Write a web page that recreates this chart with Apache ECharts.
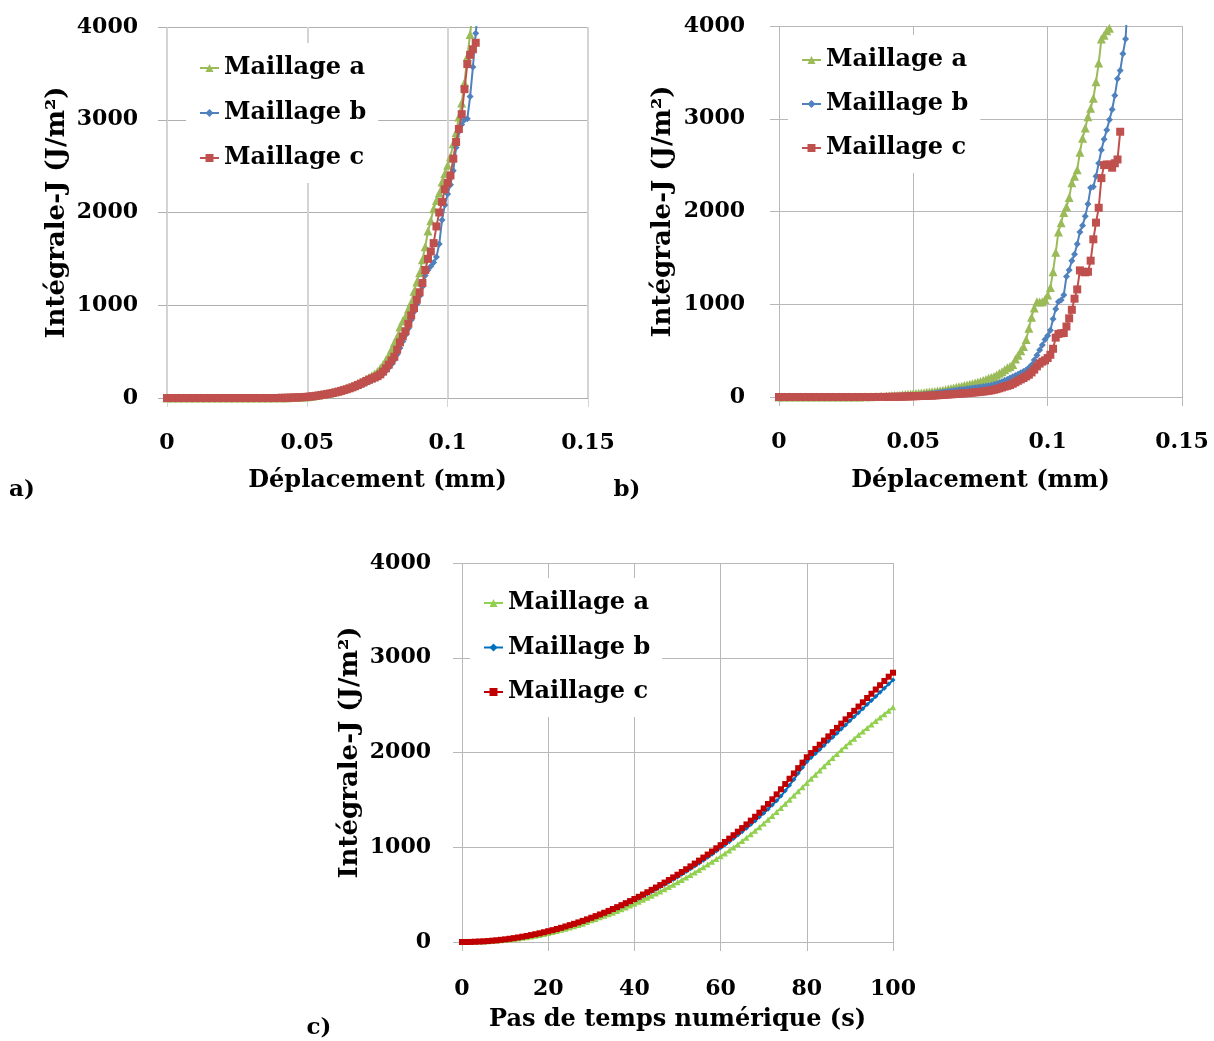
<!DOCTYPE html>
<html><head><meta charset="utf-8">
<script src="https://cdn.jsdelivr.net/npm/echarts@6/dist/echarts.min.js"></script>
<style>html,body{margin:0;padding:0;background:#fff}#c{width:1214px;height:1041px}</style>
</head><body><div id="c"></div>
<script>
// ---------- Chart a) : J-integral vs displacement ----------
const dispA = [0,0.002,0.004,0.006,0.008,0.01,0.012,0.014,0.016,0.018,0.02,0.022,0.024,0.026,0.028,0.03,0.032,0.034,0.036,0.038,
0.04,0.041,0.042,0.043,0.044,0.045,0.046,0.047,0.048,0.049,0.05,0.051,0.052,0.053,0.054,0.055,0.056,0.057,0.058,0.059,
0.06,0.061,0.062,0.063,0.064,0.065,0.066,0.067,0.068,0.069,0.07,0.071,0.072,0.073,0.074,0.075,0.076,0.077,0.078,0.079,
0.08,0.081,0.082,0.083,0.084,0.085,0.086,0.087,0.088,0.089,0.09,0.091,0.092,0.093,0.094,0.095,0.096,0.097,0.098,0.099,
0.1,0.101,0.102,0.103,0.104,0.105,0.106,0.107,0.108,0.109,0.11,0.111];
const aMeshA = [0,0,0,0,0,0,0,0,0,0,0,0,0,0,0,0,0,0,0,1,
2,2,3,4,5,6,7,8,10,12,14,18,22,27,32,37,42,48,54,60,
68,76,85,95,105,115,128,142,156,170,187,203,220,240,262,285,320,360,410,460,
525,595,657,765,830,880,960,1030,1150,1250,1350,1490,1630,1800,1910,2040,2130,2210,2330,2420,
2510,2600,2740,2860,3030,3180,3400,3680,3920,4200,null,null];
const aMeshB = [0,0,0,0,0,0,0,0,0,0,0,0,0,0,0,0,0,0,0,0,
1,1,2,2,3,4,5,6,8,10,12,14,17,20,24,28,32,37,42,48,
54,61,68,76,84,93,102,112,123,135,148,162,176,190,203,215,235,260,290,325,
365,410,470,540,610,680,750,840,930,1010,1100,1200,1320,1380,1420,1460,1520,1660,1920,2080,
2200,2300,2450,2700,2870,2950,3000,3010,3250,3570,3933,4250];
const aMeshC = [0,0,0,0,0,0,0,0,0,0,0,0,0,0,0,0,0,0,0,0,
1,2,2,3,4,5,6,7,9,11,13,16,19,23,27,32,37,42,48,54,
61,68,76,85,94,104,115,127,140,154,168,183,198,210,222,235,255,285,320,360,
405,445,520,600,664,720,800,890,970,1060,1140,1240,1380,1500,1580,1670,1850,2000,2114,2250,
2320,2400,2580,2760,2900,3060,3330,3600,3700,3760,3830,null];

// ---------- Chart b) ----------
const dispB = [0,0.002,0.004,0.006,0.008,0.01,0.012,0.014,0.016,0.018,0.02,0.022,0.024,0.026,0.028,0.03,0.032,0.034,0.036,0.038,
0.04,0.041,0.042,0.043,0.044,0.045,0.046,0.047,0.048,0.049,0.05,0.051,0.052,0.053,0.054,0.055,0.056,0.057,0.058,0.059,
0.06,0.061,0.062,0.063,0.064,0.065,0.066,0.067,0.068,0.069,0.07,0.071,0.072,0.073,0.074,0.075,0.076,0.077,0.078,0.079,
0.08,0.081,0.082,0.083,0.084,0.085,0.086,0.087,0.088,0.089,0.09,0.091,0.092,0.093,0.094,0.095,0.096,0.097,0.098,0.099,
0.1,0.101,0.102,0.103,0.104,0.105,0.106,0.107,0.108,0.109,0.11,0.111,0.112,0.113,0.114,0.115,0.116,0.117,0.118,0.119,
0.12,0.121,0.122,0.123,0.124,0.125,0.126,0.127,0.128,0.129,0.13];
const bMeshA = [0,0,0,0,0,0,0,0,0,0,0,0,0,0,1,1,2,4,6,8,
10,11,13,15,17,20,23,26,29,33,37,39,41,44,46,50,53,57,60,64,
68,73,79,85,91,98,104,110,117,123,130,137,144,151,159,167,178,190,201,210,
220,237,255,272,295,315,330,350,410,450,500,545,620,740,860,960,1028,1025,1028,1050,
1100,1180,1351,1560,1780,1880,1990,2050,2150,2310,2380,2450,2640,2790,2900,3022,3112,3220,3400,3600,
3860,3900,3950,3975,null,null,null,null,null,null,null];
const bMeshB = [0,0,0,0,0,0,0,0,0,0,0,0,0,0,0,0,0,1,1,1,
2,3,3,4,5,6,8,10,12,14,16,18,21,24,27,30,33,37,41,45,
49,53,57,61,65,69,73,77,80,84,88,92,96,100,104,108,112,117,122,128,
134,142,154,165,177,190,205,218,232,245,262,275,291,315,345,400,450,506,560,620,
660,720,840,950,1028,1046,1100,1300,1370,1470,1540,1650,1780,1850,1950,2080,2255,2267,2380,2520,
2663,2780,2880,2990,3100,3250,3430,3520,3700,3860,4400];
const bMeshC = [0,0,0,0,0,0,0,0,0,0,0,0,0,0,0,0,0,0,0,1,
1,1,2,2,3,3,4,5,6,7,8,9,10,11,12,13,14,15,17,19,
21,23,25,27,29,31,33,35,37,39,41,44,47,50,53,56,59,63,67,72,
78,85,94,103,112,120,129,143,158,175,190,205,222,240,265,295,330,360,381,395,
420,455,520,640,680,687,690,760,848,940,1060,1160,1365,1350,1344,1350,1470,1700,1880,2040,
2360,2500,2507,2505,2472,2520,2561,2860,null,null,null];

// ---------- Chart c) : J-integral vs numerical time step ----------
const stepC = [0,1,2,3,4,5,6,7,8,9,10,11,12,13,14,15,16,17,18,19,20,21,22,23,24,25,26,27,28,29,30,
31,32,33,34,35,36,37,38,39,40,41,42,43,44,45,46,47,48,49,50,51,52,53,54,55,56,57,58,59,60,
61,62,63,64,65,66,67,68,69,70,71,72,73,74,75,76,77,78,79,80,81,82,83,84,85,86,87,88,89,90,
91,92,93,94,95,96,97,98,99,100];
const cMeshA = [0,0,1,2,4,6,8,11,14,18,22,27,32,38,44,51,58,66,75,85,95,106,117,128,140,152,165,179,193,211,229,
244,260,276,293,310,328,346,365,385,405,425,446,467,489,511,534,557,581,605,630,655,681,707,734,761,789,817,846,875,905,
935,966,998,1031,1065,1100,1136,1173,1211,1250,1290,1331,1373,1415,1458,1502,1546,1590,1634,1678,1722,1766,1810,1854,1898,1941,1984,2026,2067,2107,
2146,2184,2221,2258,2295,2332,2369,2405,2441,2477];
const cMeshB = [0,0,1,3,5,7,10,13,17,22,27,33,40,47,54,62,71,80,90,100,111,122,134,146,159,173,187,201,216,232,248,
265,282,300,318,337,357,377,398,419,440,462,485,508,532,557,582,607,633,660,687,715,743,772,802,832,863,894,926,960,994,
1026,1059,1093,1128,1164,1201,1239,1278,1318,1359,1401,1445,1490,1540,1595,1655,1715,1780,1842,1903,1946,1989,2032,2075,2118,2161,2204,2248,2291,2334,
2377,2420,2463,2506,2549,2592,2636,2679,2722,2765];
const cMeshC = [0,0,1,3,5,7,10,14,18,23,28,34,41,48,56,64,73,82,92,103,114,125,137,150,164,178,192,207,223,239,256,
273,291,309,328,348,368,389,410,432,454,477,501,525,550,575,601,627,654,682,710,739,768,798,828,859,891,923,955,989,1022,
1056,1091,1127,1164,1202,1241,1281,1322,1365,1410,1457,1506,1558,1612,1667,1723,1779,1835,1893,1950,1994,2038,2082,2126,2170,2215,2260,2305,2350,2395,
2440,2485,2530,2575,2620,2665,2710,2755,2800,2842];

const legendNames = ['Maillage a','Maillage b','Maillage c'];
const yTitle = 'Intégrale-J (J/m²)';
const xTitleAB = 'Déplacement (mm)';
const xTitleC = 'Pas de temps numérique (s)';
const panelLabels = ['a)','b)','c)'];

// ---------- styling / layout ----------
const FONT = 'DejaVu Serif';
const txt = (size) => ({fontFamily: FONT, fontWeight: 'bold', fontSize: size, color: '#000'});
const colAB = ['#9BBB59','#4F81BD','#C0504D'];
const colC = ['#92D050','#0070C0','#C00000'];

function pairs(xs, ys){ const out=[]; for(let i=0;i<xs.length;i++){ if(ys[i]!=null) out.push([xs[i], ys[i]]); } return out; }

function xAx(gi, max, interval, name, gap, vCol, vW, tickCol, lblMargin){
  return {type:'value', gridIndex:gi, min:0, max:max, interval:interval,
    name:name, nameLocation:'middle', nameGap:gap,
    nameTextStyle:Object.assign(txt(24),{verticalAlign:'middle'}),
    axisLine:{show:false},
    axisTick:{show:true, length:9, lineStyle:{color:tickCol, width:1}},
    axisLabel:Object.assign(txt(22),{margin:lblMargin, verticalAlign:'middle', formatter:(v)=>String(+v.toFixed(4))}),
    splitLine:{show:true, lineStyle:{color:vCol, width:vW}}};
}
function yAx(gi, gap, lblMargin, hCol){
  return {type:'value', gridIndex:gi, min:0, max:4000, interval:1000,
    name:yTitle, nameLocation:'middle', nameGap:gap, nameRotate:90,
    nameTextStyle:Object.assign(txt(26),{verticalAlign:'middle'}),
    axisLine:{show:false},
    axisTick:{show:true, length:9, lineStyle:{color:hCol, width:1}},
    axisLabel:Object.assign(txt(22),{margin:lblMargin, formatter:(v)=>String(v)}),
    splitLine:{show:true, lineStyle:{color:hCol, width:1}}};
}
function ser(prefix, idx, gi, data, color, sym, size, lw){
  return {name:prefix+'|'+legendNames[idx], type:'line', xAxisIndex:gi, yAxisIndex:gi,
    data:data, symbol:sym, symbolSize:size, showSymbol:true,
    lineStyle:{color:color, width:lw}, itemStyle:{color:color}, z:2+idx, clip:true, silent:true};
}
function leg(prefix, left, top, gap){
  return {left:left, top:top, orient:'vertical', data:legendNames.map(n=>prefix+'|'+n),
    formatter:(n)=>n.split('|')[1], itemWidth:19, itemHeight:10, itemGap:gap,
    backgroundColor:'#fff', padding:[10,12,10,13], selectedMode:false,
    textStyle:Object.assign(txt(24),{lineHeight:30})};
}

const chart = echarts.init(document.getElementById('c'), null, {renderer:'canvas'});
chart.setOption({
  animation:false,
  backgroundColor:'#fff',
  grid:[
    {left:167, top:27, width:421, height:371},
    {left:779, top:26, width:403, height:371},
    {left:462, top:563, width:431, height:379}
  ],
  xAxis:[
    xAx(0, 0.15, 0.05, xTitleAB, 83, '#D4D4D4', 2, '#D4D4D4', 45),
    xAx(1, 0.15, 0.05, xTitleAB, 84, '#B8B8B8', 1, '#B8B8B8', 45),
    xAx(2, 100, 20, xTitleC, 78, '#B8B8B8', 1, '#B8B8B8', 47)
  ],
  yAxis:[ yAx(0, 110, 29, '#AFAFAF'), yAx(1, 116, 34, '#B8B8B8'), yAx(2, 112, 31, '#B8B8B8') ],
  legend:[ leg('A', 186, 43, 15), leg('B', 788, 35, 14), leg('C', 470, 578, 14.5) ],
  series:[
    ser('A',0,0,pairs(dispA,aMeshA),colAB[0],'triangle',9,2),
    ser('A',1,0,pairs(dispA,aMeshB),colAB[1],'diamond',7,2),
    ser('A',2,0,pairs(dispA,aMeshC),colAB[2],'rect',8,2),
    ser('B',0,1,pairs(dispB,bMeshA),colAB[0],'triangle',9,2),
    ser('B',1,1,pairs(dispB,bMeshB),colAB[1],'diamond',7,2),
    ser('B',2,1,pairs(dispB,bMeshC),colAB[2],'rect',8,2),
    ser('C',0,2,pairs(stepC,cMeshA),colC[0],'triangle',6,2),
    ser('C',1,2,pairs(stepC,cMeshB),colC[1],'diamond',5,2),
    ser('C',2,2,pairs(stepC,cMeshC),colC[2],'rect',6,2)
  ],
  graphic:[
    {type:'text', x:22, y:490, style:{text:panelLabels[0], fontFamily:FONT, fontWeight:'bold', fontSize:23, fill:'#000', align:'center', verticalAlign:'middle'}},
    {type:'text', x:627, y:490, style:{text:panelLabels[1], fontFamily:FONT, fontWeight:'bold', fontSize:23, fill:'#000', align:'center', verticalAlign:'middle'}},
    {type:'text', x:319, y:1028, style:{text:panelLabels[2], fontFamily:FONT, fontWeight:'bold', fontSize:23, fill:'#000', align:'center', verticalAlign:'middle'}}
  ]
});
</script>
</body></html>
